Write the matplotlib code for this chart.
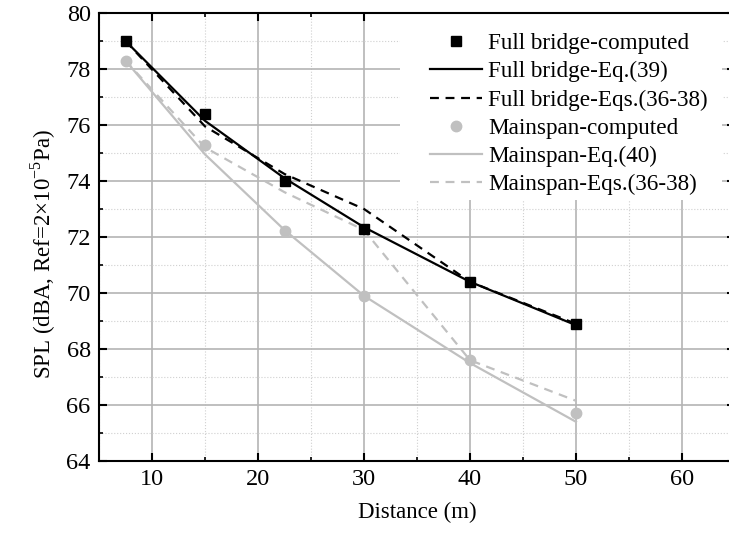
import numpy as np
import matplotlib
matplotlib.use('Agg')
import matplotlib.pyplot as plt
from matplotlib.ticker import MultipleLocator
from matplotlib.patches import Rectangle

plt.rcParams['font.family'] = ['Liberation Serif', 'DejaVu Serif']
plt.rcParams['mathtext.fontset'] = 'custom'
plt.rcParams['mathtext.rm'] = 'Liberation Serif'

# distances (m)
dist = [7.5, 15, 22.5, 30, 40, 50]

# full bridge
fb_comp = [79.0, 76.4, 74.0, 72.3, 70.4, 68.9]
fb_eq39 = [79.0, 76.15, 74.1, 72.35, 70.4, 68.85]
fb_eq36 = [79.0, 75.95, 74.25, 73.0, 70.4, 68.9]

# mainspan
ms_comp = [78.3, 75.3, 72.2, 69.9, 67.6, 65.7]
ms_eq40 = [78.3, 74.95, 72.25, 69.9, 67.5, 65.4]
ms_eq36 = [78.3, 75.2, 73.6, 72.25, 67.6, 66.15]

grey = '#c0c0c0'

fig = plt.figure(figsize=(7.29, 5.38), dpi=100)
ax = fig.add_axes([99/729, 1 - 461/538, (735 - 99)/729, (461 - 13)/538])

ax.plot(dist, fb_comp, 's', color='black', ms=7.5, label='Full bridge-computed', zorder=5)
ax.plot(dist, fb_eq39, '-', color='black', lw=1.6, label='Full bridge-Eq.(39)', zorder=4)
ax.plot(dist, fb_eq36, '--', color='black', lw=1.6, dashes=(4, 3), label='Full bridge-Eqs.(36-38)', zorder=4)
ax.plot(dist, ms_comp, 'o', color=grey, ms=7.5, label='Mainspan-computed', zorder=5)
ax.plot(dist, ms_eq40, '-', color=grey, lw=1.6, label='Mainspan-Eq.(40)', zorder=3)
ax.plot(dist, ms_eq36, '--', color=grey, lw=1.6, dashes=(4, 3), label='Mainspan-Eqs.(36-38)', zorder=3)

ax.set_xlim(5, 65)
ax.set_ylim(64, 80)
ax.xaxis.set_major_locator(MultipleLocator(10))
ax.xaxis.set_minor_locator(MultipleLocator(5))
ax.yaxis.set_major_locator(MultipleLocator(2))
ax.yaxis.set_minor_locator(MultipleLocator(1))

ax.grid(which='major', color='#b4b4b4', lw=1.2, ls='-')
ax.grid(which='minor', color='#d0d0d0', lw=0.8, ls=':')
ax.set_axisbelow(True)

ax.tick_params(which='both', direction='in', top=True, right=True, labelsize=17.5)
ax.tick_params(which='major', length=6, width=1.5, pad=6)
ax.tick_params(which='minor', length=3, width=1.2)
for s in ax.spines.values():
    s.set_linewidth(1.5)

ax.set_xlabel('Distance (m)', fontsize=16.5, labelpad=8)
ax.set_ylabel('SPL (dBA, Ref=2$\\times$10$^{-5}$Pa)', fontsize=16.5, labelpad=6)
ax.yaxis.label.set_y(0.462)

# white box behind legend (covers grid)
ax.add_patch(Rectangle((400/729, 1 - 200/538), (722 - 400)/729, (200 - 13)/538,
                       transform=fig.transFigure, facecolor='white', edgecolor='none', zorder=1))

leg = ax.legend(loc='upper left', bbox_to_anchor=((430 - 99)/636, (461 - 33)/448), fontsize=16.7,
                handlelength=2.25, handletextpad=0.26, labelspacing=0.3,
                borderpad=0, borderaxespad=0, frameon=False)

plt.savefig('out.png', dpi=100)
